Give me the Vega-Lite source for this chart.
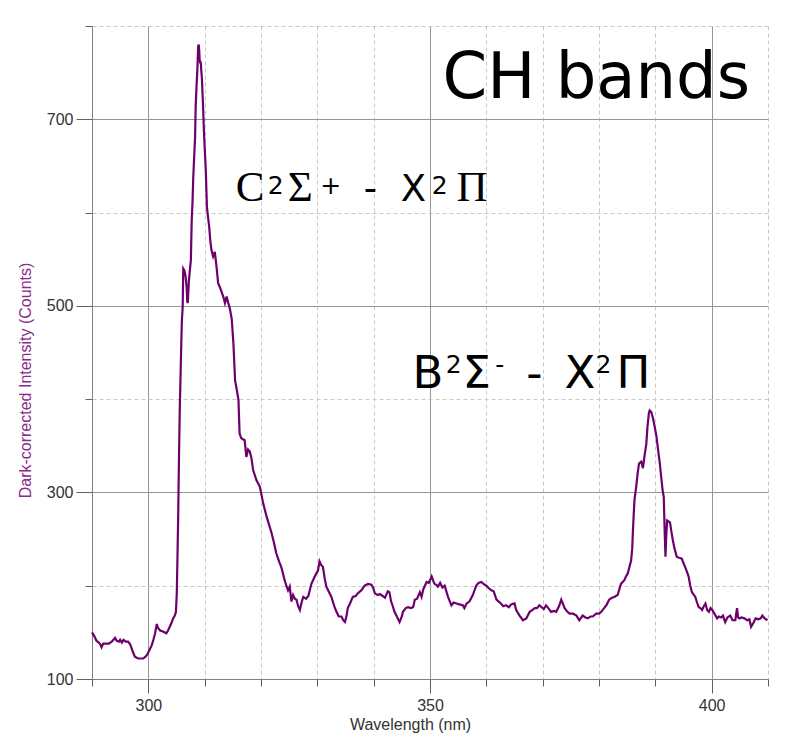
{
  "$schema": "https://vega.github.io/schema/vega-lite/v6.json",
  "width": 676,
  "height": 653,
  "autosize": {"type": "none"},
  "padding": {"left": 92, "top": 26, "right": 17, "bottom": 63},
  "background": "white",
  "config": {
    "view": {"stroke": null},
    "axis": {
      "labelFont": "Liberation Sans",
      "titleFont": "Liberation Sans",
      "labelFontSize": 16,
      "titleFontSize": 16,
      "titleFontWeight": "normal",
      "labelColor": "#333333",
      "domainColor": "#808080",
      "tickColor": "#606060",
      "gridOpacity": 1
    }
  },
  "datasets": {
    "spectrum": [
      {"wl": 290.0, "counts": 150}, {"wl": 290.4, "counts": 146}, {"wl": 290.8, "counts": 141}, {"wl": 291.2, "counts": 139},
      {"wl": 291.5, "counts": 137}, {"wl": 291.7, "counts": 134}, {"wl": 292.0, "counts": 138}, {"wl": 292.5, "counts": 138},
      {"wl": 293.0, "counts": 138}, {"wl": 293.5, "counts": 140}, {"wl": 294.1, "counts": 144}, {"wl": 294.4, "counts": 141},
      {"wl": 294.8, "counts": 140}, {"wl": 295.0, "counts": 142}, {"wl": 295.3, "counts": 139}, {"wl": 295.6, "counts": 142},
      {"wl": 296.0, "counts": 140}, {"wl": 296.4, "counts": 140}, {"wl": 296.8, "counts": 137}, {"wl": 297.2, "counts": 130},
      {"wl": 297.6, "counts": 124}, {"wl": 298.2, "counts": 122}, {"wl": 298.7, "counts": 122}, {"wl": 299.1, "counts": 122},
      {"wl": 299.5, "counts": 124}, {"wl": 299.8, "counts": 126}, {"wl": 300.2, "counts": 131}, {"wl": 300.6, "counts": 136},
      {"wl": 300.9, "counts": 142}, {"wl": 301.2, "counts": 149}, {"wl": 301.5, "counts": 159}, {"wl": 301.7, "counts": 155},
      {"wl": 302.1, "counts": 152}, {"wl": 302.6, "counts": 151}, {"wl": 303.2, "counts": 149}, {"wl": 303.5, "counts": 152},
      {"wl": 303.8, "counts": 156}, {"wl": 304.1, "counts": 160}, {"wl": 304.4, "counts": 165}, {"wl": 304.7, "counts": 168},
      {"wl": 304.9, "counts": 172}, {"wl": 305.05, "counts": 192}, {"wl": 305.2, "counts": 240}, {"wl": 305.3, "counts": 274},
      {"wl": 305.4, "counts": 320}, {"wl": 305.5, "counts": 360}, {"wl": 305.6, "counts": 395}, {"wl": 305.7, "counts": 420},
      {"wl": 305.85, "counts": 460}, {"wl": 305.96, "counts": 485}, {"wl": 306.1, "counts": 499}, {"wl": 306.2, "counts": 540},
      {"wl": 306.4, "counts": 538}, {"wl": 306.6, "counts": 532}, {"wl": 306.8, "counts": 520}, {"wl": 306.9, "counts": 505},
      {"wl": 307.0, "counts": 503}, {"wl": 307.1, "counts": 515}, {"wl": 307.2, "counts": 527}, {"wl": 307.4, "counts": 540},
      {"wl": 307.55, "counts": 549}, {"wl": 307.7, "counts": 592}, {"wl": 307.85, "counts": 612}, {"wl": 307.96, "counts": 635},
      {"wl": 308.1, "counts": 655}, {"wl": 308.3, "counts": 681}, {"wl": 308.4, "counts": 713}, {"wl": 308.55, "counts": 735},
      {"wl": 308.7, "counts": 753}, {"wl": 308.85, "counts": 778}, {"wl": 308.95, "counts": 780}, {"wl": 309.05, "counts": 772},
      {"wl": 309.1, "counts": 765}, {"wl": 309.2, "counts": 760}, {"wl": 309.3, "counts": 762}, {"wl": 309.4, "counts": 752},
      {"wl": 309.5, "counts": 745}, {"wl": 309.6, "counts": 730}, {"wl": 309.7, "counts": 717}, {"wl": 309.85, "counts": 690},
      {"wl": 310.0, "counts": 670}, {"wl": 310.2, "counts": 645}, {"wl": 310.4, "counts": 606}, {"wl": 310.6, "counts": 595},
      {"wl": 310.8, "counts": 585}, {"wl": 311.0, "counts": 570}, {"wl": 311.2, "counts": 560}, {"wl": 311.5, "counts": 553},
      {"wl": 311.8, "counts": 558}, {"wl": 312.1, "counts": 542}, {"wl": 312.4, "counts": 524}, {"wl": 312.7, "counts": 520},
      {"wl": 313.0, "counts": 515}, {"wl": 313.3, "counts": 510}, {"wl": 313.6, "counts": 503}, {"wl": 313.9, "counts": 510},
      {"wl": 314.1, "counts": 505}, {"wl": 314.3, "counts": 501}, {"wl": 314.5, "counts": 496}, {"wl": 314.8, "counts": 486},
      {"wl": 315.1, "counts": 460}, {"wl": 315.4, "counts": 420}, {"wl": 315.7, "counts": 410}, {"wl": 316.0, "counts": 399},
      {"wl": 316.2, "counts": 363}, {"wl": 316.5, "counts": 358}, {"wl": 316.8, "counts": 357}, {"wl": 317.1, "counts": 356},
      {"wl": 317.4, "counts": 338}, {"wl": 317.7, "counts": 346}, {"wl": 318.0, "counts": 344}, {"wl": 318.3, "counts": 337},
      {"wl": 318.6, "counts": 324}, {"wl": 319.2, "counts": 313}, {"wl": 319.8, "counts": 306}, {"wl": 320.4, "counts": 288},
      {"wl": 321.0, "counts": 274}, {"wl": 321.9, "counts": 256}, {"wl": 322.3, "counts": 246}, {"wl": 322.7, "counts": 235},
      {"wl": 323.2, "counts": 226}, {"wl": 323.6, "counts": 220}, {"wl": 324.2, "counts": 206}, {"wl": 324.5, "counts": 200},
      {"wl": 324.8, "counts": 195}, {"wl": 325.1, "counts": 199}, {"wl": 325.4, "counts": 183}, {"wl": 325.7, "counts": 190},
      {"wl": 326.0, "counts": 186}, {"wl": 326.3, "counts": 185}, {"wl": 326.6, "counts": 178}, {"wl": 326.9, "counts": 174},
      {"wl": 327.2, "counts": 182}, {"wl": 327.5, "counts": 188}, {"wl": 328.0, "counts": 186}, {"wl": 328.4, "counts": 189},
      {"wl": 328.95, "counts": 202}, {"wl": 329.4, "counts": 208}, {"wl": 329.8, "counts": 213}, {"wl": 330.1, "counts": 216},
      {"wl": 330.4, "counts": 226}, {"wl": 330.7, "counts": 222}, {"wl": 331.0, "counts": 220}, {"wl": 331.3, "counts": 208},
      {"wl": 331.6, "counts": 199}, {"wl": 332.0, "counts": 194}, {"wl": 332.5, "counts": 188}, {"wl": 333.0, "counts": 178},
      {"wl": 333.4, "counts": 172}, {"wl": 333.8, "counts": 167}, {"wl": 334.3, "counts": 167}, {"wl": 334.6, "counts": 163},
      {"wl": 334.9, "counts": 161}, {"wl": 335.2, "counts": 168}, {"wl": 335.4, "counts": 176}, {"wl": 335.8, "counts": 181},
      {"wl": 336.3, "counts": 188}, {"wl": 336.8, "counts": 189}, {"wl": 337.2, "counts": 192}, {"wl": 337.8, "counts": 195},
      {"wl": 338.4, "counts": 200}, {"wl": 339.0, "counts": 202}, {"wl": 339.6, "counts": 201}, {"wl": 339.9, "counts": 198},
      {"wl": 340.2, "counts": 192}, {"wl": 340.7, "counts": 190}, {"wl": 341.1, "counts": 191}, {"wl": 341.6, "counts": 189},
      {"wl": 342.0, "counts": 187}, {"wl": 342.5, "counts": 194}, {"wl": 342.8, "counts": 193}, {"wl": 343.1, "counts": 183},
      {"wl": 343.4, "counts": 178}, {"wl": 343.7, "counts": 172}, {"wl": 344.2, "counts": 166}, {"wl": 344.6, "counts": 161},
      {"wl": 345.0, "counts": 167}, {"wl": 345.2, "counts": 172}, {"wl": 345.7, "counts": 176}, {"wl": 346.1, "counts": 177},
      {"wl": 346.6, "counts": 176}, {"wl": 347.0, "counts": 177}, {"wl": 347.3, "counts": 185}, {"wl": 347.7, "counts": 186},
      {"wl": 348.2, "counts": 193}, {"wl": 348.5, "counts": 188}, {"wl": 348.8, "counts": 196}, {"wl": 349.4, "counts": 204},
      {"wl": 349.8, "counts": 203}, {"wl": 350.3, "counts": 210}, {"wl": 350.6, "counts": 205}, {"wl": 350.8, "counts": 202},
      {"wl": 351.1, "counts": 201}, {"wl": 351.4, "counts": 199}, {"wl": 351.8, "counts": 203}, {"wl": 352.2, "counts": 198},
      {"wl": 352.6, "counts": 200}, {"wl": 353.2, "counts": 188}, {"wl": 353.8, "counts": 179}, {"wl": 354.2, "counts": 182},
      {"wl": 354.7, "counts": 181}, {"wl": 355.2, "counts": 180}, {"wl": 355.8, "counts": 179}, {"wl": 356.1, "counts": 176},
      {"wl": 356.5, "counts": 181}, {"wl": 357.0, "counts": 183}, {"wl": 357.6, "counts": 190}, {"wl": 358.2, "counts": 200},
      {"wl": 358.6, "counts": 203}, {"wl": 359.1, "counts": 204}, {"wl": 359.5, "counts": 202}, {"wl": 360.0, "counts": 200},
      {"wl": 360.5, "counts": 197}, {"wl": 360.9, "counts": 195}, {"wl": 361.3, "counts": 194}, {"wl": 361.8, "counts": 185},
      {"wl": 362.2, "counts": 183}, {"wl": 362.6, "counts": 181}, {"wl": 363.0, "counts": 178}, {"wl": 363.5, "counts": 179},
      {"wl": 364.0, "counts": 177}, {"wl": 364.4, "counts": 180}, {"wl": 365.0, "counts": 181}, {"wl": 365.3, "counts": 174},
      {"wl": 365.9, "counts": 168}, {"wl": 366.5, "counts": 163}, {"wl": 367.1, "counts": 165}, {"wl": 367.7, "counts": 172},
      {"wl": 368.2, "counts": 174}, {"wl": 368.6, "counts": 176}, {"wl": 369.0, "counts": 176}, {"wl": 369.4, "counts": 179},
      {"wl": 369.8, "counts": 177}, {"wl": 370.2, "counts": 175}, {"wl": 370.6, "counts": 179}, {"wl": 371.0, "counts": 176},
      {"wl": 371.5, "counts": 172}, {"wl": 372.0, "counts": 173}, {"wl": 372.4, "counts": 172}, {"wl": 372.9, "counts": 178},
      {"wl": 373.3, "counts": 185}, {"wl": 373.9, "counts": 176}, {"wl": 374.4, "counts": 172}, {"wl": 374.8, "counts": 170},
      {"wl": 375.4, "counts": 170}, {"wl": 376.0, "counts": 168}, {"wl": 376.5, "counts": 163}, {"wl": 377.1, "counts": 168},
      {"wl": 377.6, "counts": 166}, {"wl": 378.0, "counts": 165}, {"wl": 378.5, "counts": 167}, {"wl": 378.9, "counts": 167},
      {"wl": 379.5, "counts": 170}, {"wl": 380.0, "counts": 170}, {"wl": 380.4, "counts": 172}, {"wl": 380.9, "counts": 176},
      {"wl": 381.3, "counts": 179}, {"wl": 381.8, "counts": 185}, {"wl": 382.3, "counts": 187}, {"wl": 382.7, "counts": 188},
      {"wl": 383.3, "counts": 190}, {"wl": 383.6, "counts": 196}, {"wl": 383.9, "counts": 202}, {"wl": 384.2, "counts": 204},
      {"wl": 384.5, "counts": 206}, {"wl": 384.8, "counts": 210}, {"wl": 385.1, "counts": 213}, {"wl": 385.4, "counts": 220},
      {"wl": 385.7, "counts": 227}, {"wl": 385.9, "counts": 240}, {"wl": 386.0, "counts": 256}, {"wl": 386.15, "counts": 275},
      {"wl": 386.3, "counts": 292}, {"wl": 386.6, "counts": 306}, {"wl": 386.85, "counts": 320}, {"wl": 387.1, "counts": 331},
      {"wl": 387.5, "counts": 333}, {"wl": 387.8, "counts": 326}, {"wl": 388.1, "counts": 340}, {"wl": 388.4, "counts": 352},
      {"wl": 388.6, "counts": 370}, {"wl": 388.85, "counts": 385}, {"wl": 389.0, "counts": 388}, {"wl": 389.3, "counts": 386},
      {"wl": 389.6, "counts": 379}, {"wl": 389.9, "counts": 370}, {"wl": 390.2, "counts": 360}, {"wl": 390.5, "counts": 345},
      {"wl": 390.8, "counts": 331}, {"wl": 391.05, "counts": 316}, {"wl": 391.3, "counts": 302}, {"wl": 391.5, "counts": 295},
      {"wl": 391.65, "counts": 260}, {"wl": 391.8, "counts": 231}, {"wl": 391.95, "counts": 255}, {"wl": 392.1, "counts": 270},
      {"wl": 392.6, "counts": 268}, {"wl": 392.85, "counts": 258}, {"wl": 393.1, "counts": 249}, {"wl": 393.4, "counts": 240},
      {"wl": 393.8, "counts": 231}, {"wl": 394.2, "counts": 230}, {"wl": 394.7, "counts": 229}, {"wl": 395.0, "counts": 224},
      {"wl": 395.3, "counts": 220}, {"wl": 395.6, "counts": 215}, {"wl": 395.9, "counts": 210}, {"wl": 396.2, "counts": 200},
      {"wl": 396.5, "counts": 193}, {"wl": 397.1, "counts": 188}, {"wl": 397.4, "counts": 182}, {"wl": 397.7, "counts": 177},
      {"wl": 398.0, "counts": 176}, {"wl": 398.3, "counts": 174}, {"wl": 398.6, "counts": 178}, {"wl": 398.9, "counts": 181},
      {"wl": 399.2, "counts": 174}, {"wl": 399.5, "counts": 172}, {"wl": 399.8, "counts": 176}, {"wl": 400.1, "counts": 174},
      {"wl": 400.5, "counts": 170}, {"wl": 400.97, "counts": 165}, {"wl": 401.3, "counts": 167}, {"wl": 401.7, "counts": 166},
      {"wl": 402.0, "counts": 168}, {"wl": 402.4, "counts": 161}, {"wl": 402.8, "counts": 166}, {"wl": 403.3, "counts": 168},
      {"wl": 403.7, "counts": 163}, {"wl": 404.2, "counts": 163}, {"wl": 404.5, "counts": 176}, {"wl": 404.7, "counts": 166},
      {"wl": 404.9, "counts": 165}, {"wl": 405.3, "counts": 166}, {"wl": 405.8, "counts": 165}, {"wl": 406.3, "counts": 163},
      {"wl": 406.7, "counts": 164}, {"wl": 407.0, "counts": 156}, {"wl": 407.4, "counts": 160}, {"wl": 407.8, "counts": 165},
      {"wl": 408.3, "counts": 164}, {"wl": 408.7, "counts": 165}, {"wl": 409.0, "counts": 168}, {"wl": 409.4, "counts": 165},
      {"wl": 409.9, "counts": 163}
    ]
  },
  "layer": [
    {
      "data": {"name": "spectrum"},
      "mark": {"type": "line", "strokeOpacity": 0},
      "encoding": {
        "x": {
          "field": "wl", "type": "quantitative",
          "scale": {"domain": [290, 410], "nice": false, "zero": false},
          "axis": {
            "orient": "bottom", "title": null, "labels": false, "domain": false,
            "values": [290, 310, 320, 330, 340, 360, 370, 380, 390, 410],
            "tickSize": 7, "grid": true, "gridColor": "#c8c8c8", "gridDash": [4, 3], "gridWidth": 1
          }
        },
        "y": {
          "field": "counts", "type": "quantitative",
          "scale": {"domain": [100, 800], "nice": false, "zero": false},
          "axis": {
            "orient": "left", "title": null, "labels": false, "domain": false,
            "values": [200, 400, 600, 800],
            "tickSize": 7, "grid": true, "gridColor": "#c8c8c8", "gridDash": [4, 3], "gridWidth": 1
          }
        }
      }
    },
    {
      "data": {"name": "spectrum"},
      "mark": {"type": "line", "color": "#6e006e", "strokeWidth": 2.2},
      "encoding": {
        "x": {
          "field": "wl", "type": "quantitative",
          "scale": {"domain": [290, 410], "nice": false, "zero": false},
          "axis": {
            "orient": "bottom", "title": "Wavelength (nm)", "values": [300, 350, 400],
            "tickSize": 14, "labelPadding": 4, "labelFlush": false, "grid": true,
            "gridColor": "#959595", "gridWidth": 1,
            "titleColor": "#333333", "titleX": 318, "titleY": 50, "titleBaseline": "alphabetic", "titleAlign": "center"
          }
        },
        "y": {
          "field": "counts", "type": "quantitative",
          "scale": {"domain": [100, 800], "nice": false, "zero": false},
          "axis": {
            "orient": "left", "title": "Dark-corrected Intensity (Counts)", "values": [100, 300, 500, 700],
            "tickSize": 16, "labelPadding": 3, "labelFlush": false, "grid": true,
            "gridColor": "#959595", "gridWidth": 1,
            "titleColor": "#8a2b8a", "titleX": -62, "titleY": 354, "titleBaseline": "alphabetic", "titleAlign": "center", "titleAngle": -90
          }
        }
      }
    },
    {
      "data": {"values": [{"label": "CH bands", "wl": 352.23, "counts": 722.8}]},
      "mark": {"type": "text", "font": "DejaVu Sans", "fontSize": 64, "align": "left", "baseline": "alphabetic", "color": "black"},
      "encoding": {
        "x": {"field": "wl", "type": "quantitative", "scale": {"domain": [290, 410], "nice": false, "zero": false}, "axis": null},
        "y": {"field": "counts", "type": "quantitative", "scale": {"domain": [100, 800], "nice": false, "zero": false}, "axis": null},
        "text": {"field": "label"}
      }
    },
    {
      "data": {"values": [
        {"label": "C", "wl": 315.53, "counts": 612.3},
        {"label": "Σ", "wl": 324.75, "counts": 612.3},
        {"label": "Π", "wl": 354.72, "counts": 612.3}
      ]},
      "mark": {"type": "text", "font": "Liberation Serif", "fontSize": 43, "align": "left", "baseline": "alphabetic", "color": "black"},
      "encoding": {
        "x": {"field": "wl", "type": "quantitative", "scale": {"domain": [290, 410], "nice": false, "zero": false}, "axis": null},
        "y": {"field": "counts", "type": "quantitative", "scale": {"domain": [100, 800], "nice": false, "zero": false}, "axis": null},
        "text": {"field": "label"}
      }
    },
    {
      "data": {"values": [
        {"label": "-", "wl": 338.23, "counts": 612.3},
        {"label": "X", "wl": 344.79, "counts": 612.3}
      ]},
      "mark": {"type": "text", "font": "DejaVu Sans", "fontSize": 37, "align": "left", "baseline": "alphabetic", "color": "black"},
      "encoding": {
        "x": {"field": "wl", "type": "quantitative", "scale": {"domain": [290, 410], "nice": false, "zero": false}, "axis": null},
        "y": {"field": "counts", "type": "quantitative", "scale": {"domain": [100, 800], "nice": false, "zero": false}, "axis": null},
        "text": {"field": "label"}
      }
    },
    {
      "data": {"values": [
        {"label": "2", "wl": 321.2, "counts": 619.8},
        {"label": "+", "wl": 330.5, "counts": 619.8},
        {"label": "2", "wl": 350.3, "counts": 619.8},
        {"label": "2", "wl": 352.8, "counts": 427.5},
        {"label": "-", "wl": 361.6, "counts": 427.5},
        {"label": "2", "wl": 379.4, "counts": 427.5}
      ]},
      "mark": {"type": "text", "font": "DejaVu Sans", "fontSize": 25, "align": "left", "baseline": "alphabetic", "color": "black"},
      "encoding": {
        "x": {"field": "wl", "type": "quantitative", "scale": {"domain": [290, 410], "nice": false, "zero": false}, "axis": null},
        "y": {"field": "counts", "type": "quantitative", "scale": {"domain": [100, 800], "nice": false, "zero": false}, "axis": null},
        "text": {"field": "label"}
      }
    },
    {
      "data": {"values": [
        {"label": "B", "wl": 346.91, "counts": 411.8},
        {"label": "Σ", "wl": 355.78, "counts": 411.8},
        {"label": "-", "wl": 367.1, "counts": 411.8},
        {"label": "X", "wl": 373.87, "counts": 411.8},
        {"label": "Π", "wl": 383.09, "counts": 411.8}
      ]},
      "mark": {"type": "text", "font": "DejaVu Sans", "fontSize": 45, "align": "left", "baseline": "alphabetic", "color": "black"},
      "encoding": {
        "x": {"field": "wl", "type": "quantitative", "scale": {"domain": [290, 410], "nice": false, "zero": false}, "axis": null},
        "y": {"field": "counts", "type": "quantitative", "scale": {"domain": [100, 800], "nice": false, "zero": false}, "axis": null},
        "text": {"field": "label"}
      }
    }
  ],
  "resolve": {"axis": {"x": "independent", "y": "independent"}}
}
